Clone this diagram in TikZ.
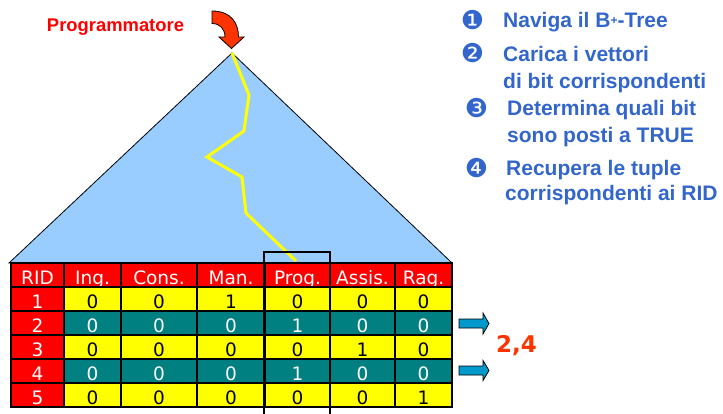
\documentclass[tikz,border=0pt]{standalone}
\usepackage{fontspec}
\setmainfont{Liberation Sans}
\newfontfamily\dv{DejaVu Sans}
\definecolor{triblue}{HTML}{99CCFF}
\definecolor{tabred}{HTML}{FF0000}
\definecolor{tabyel}{HTML}{FFFF00}
\definecolor{tabteal}{HTML}{008080}
\definecolor{txtblue}{HTML}{3366CC}
\definecolor{orred}{HTML}{FF3300}
\definecolor{arrblue}{HTML}{0099CC}
\tikzset{
  cell/.style={draw=black, line width=1.5, inner sep=0pt, anchor=center,
    font=\dv\fontsize{18.5}{18.5}\selectfont, text height=18pt, text depth=0pt, minimum height=24pt},
  hd/.style={cell, fill=tabred, text=white},
  yl/.style={cell, fill=tabyel, text=black},
  tl/.style={cell, fill=tabteal, text=white},
  steptxt/.style={anchor=base west, inner sep=0pt, text=txtblue, font=\bfseries\fontsize{21}{21}\selectfont},
  bul/.style={anchor=center, inner sep=0pt, text=txtblue, font=\dv\fontsize{26}{26}\selectfont},
  bluearrow/.style={fill=arrblue, draw=black, line width=0.8},
}
\newcommand{\trow}[9]{%
  \node[hd, minimum width=53pt] (c#1-1) at (37.5,#2) {#1};
  \node[#3, minimum width=57pt] (c#1-2) at (92.5,#2) {#4};
  \node[#3, minimum width=76pt] (c#1-3) at (159,#2) {#5};
  \node[#3, minimum width=68pt] (c#1-4) at (231,#2) {#6};
  \node[#3, minimum width=65pt] (c#1-5) at (297.5,#2) {#7};
  \node[#3, minimum width=65pt] (c#1-6) at (362.5,#2) {#8};
  \node[#3, minimum width=57pt] (c#1-7) at (423.5,#2) {#9};
}
\begin{document}
\begin{tikzpicture}[x=1pt,y=-1pt]
\useasboundingbox (0,0) rectangle (723,413);
% triangle (B+-tree)
\filldraw[fill=triblue, draw=black, line width=0.8] (232,53) -- (452,263) -- (9,263) -- cycle;
% navigation path
\draw[tabyel, line width=3, line join=miter] (232,53) -- (249,95) -- (244,131) -- (207,157) -- (242,177) -- (246,213) -- (296,261);
% programmer
\node[anchor=base, inner sep=0pt, text=tabred, font=\bfseries\fontsize{18.4}{18.4}\selectfont] (prog) at (115.5,31) {Programmatore};
\filldraw[fill=orred, draw=black, line width=0.8] (212,11) .. controls (231,11) and (238.5,23) .. (238.5,37) -- (244,37) -- (231.5,48.5) -- (219,37) -- (225,37) .. controls (225,29) and (220,23.5) .. (212,23.5) -- cycle;
% table header
\node[hd, minimum width=53pt] (h-1) at (37.5,275) {RID};
\node[hd, minimum width=57pt] (h-2) at (92.5,275) {Ing.};
\node[hd, minimum width=76pt] (h-3) at (159,275) {Cons.};
\node[hd, minimum width=68pt] (h-4) at (231,275) {Man.};
\node[hd, minimum width=65pt] (h-5) at (297.5,275) {Prog.};
\node[hd, minimum width=65pt] (h-6) at (362.5,275) {Assis.};
\node[hd, minimum width=57pt] (h-7) at (423.5,275) {Rag.};
\trow{1}{299}{yl}{0}{0}{1}{0}{0}{0}
\trow{2}{323}{tl}{0}{0}{0}{1}{0}{0}
\trow{3}{347}{yl}{0}{0}{0}{0}{1}{0}
\trow{4}{371}{tl}{0}{0}{0}{1}{0}{0}
\trow{5}{395}{yl}{0}{0}{0}{0}{0}{1}
\draw[black, line width=1.8] (11,263) rectangle (452,407);
% Prog. column frame
\draw[black, line width=2.4] (264,416) -- (264,252) -- (330,252) -- (330,416);
% result arrows
\filldraw[bluearrow] (459,319) -- (483,319) -- (483,313) -- (489,323.5) -- (483,334) -- (483,328) -- (459,328) -- cycle;
\filldraw[bluearrow] (459,366) -- (483,366) -- (483,360.5) -- (489,370.5) -- (483,380.5) -- (483,375) -- (459,375) -- cycle;
\node[anchor=base west, inner sep=0pt, text=orred, font=\dv\bfseries\fontsize{23}{23}\selectfont] (res) at (496,352.5) {2,4};
% steps
\node[bul] (b1) at (472.5,20) {❶};
\node[steptxt] (s1) at (503,27.5) {Naviga il B{\fontsize{12}{12}\selectfont\raisebox{3pt}{+}}-Tree};
\node[bul] (b2) at (472.5,53) {❷};
\node[steptxt] (s2a) at (503,61) {Carica i vettori};
\node[steptxt] (s2b) at (503,88) {di bit corrispondenti};
\node[bul] (b3) at (476.5,108) {❸};
\node[steptxt] (s3a) at (507,115) {Determina quali bit};
\node[steptxt] (s3b) at (507,142) {sono posti a TRUE};
\node[bul] (b4) at (476.5,168) {❹};
\node[steptxt] (s4a) at (506,175) {Recupera le tuple};
\node[steptxt] (s4b) at (505,200) {corrispondenti ai RID};
\end{tikzpicture}
\end{document}
